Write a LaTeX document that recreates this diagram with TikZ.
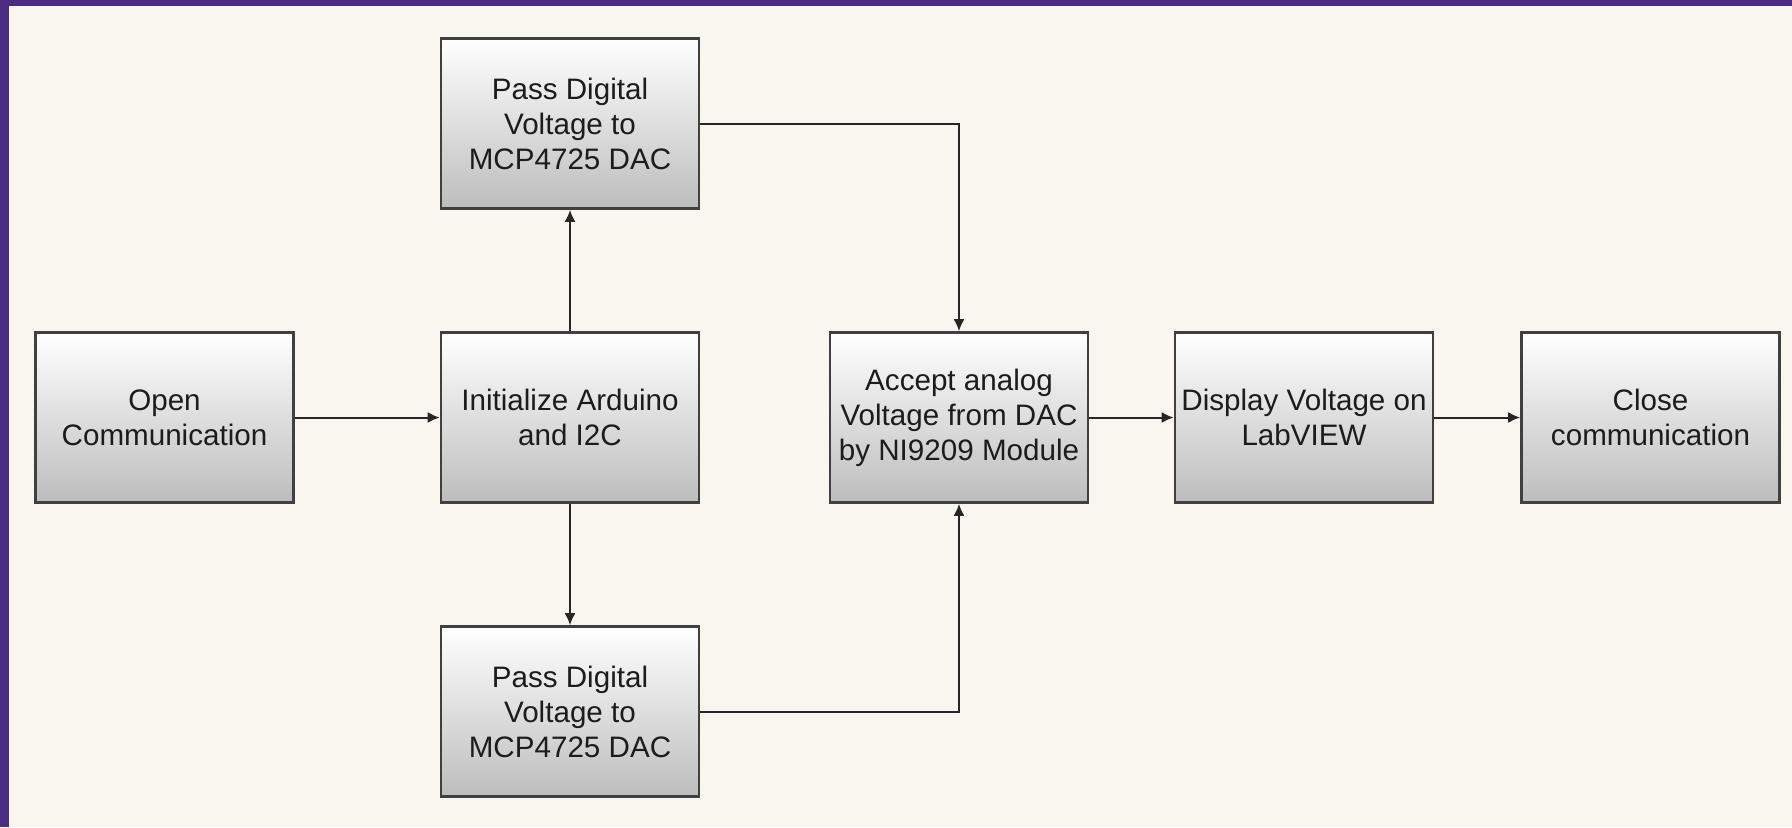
\documentclass[tikz,border=0pt]{standalone}
\usepackage{fontspec}
\setmainfont{Liberation Sans}
\usepackage{xcolor}
\usetikzlibrary{arrows.meta}
\definecolor{ink}{HTML}{1C1C1C}
\definecolor{edge}{HTML}{404040}
\definecolor{paper}{HTML}{F9F6F0}
\definecolor{frame}{HTML}{4A2C82}
\definecolor{shadebot}{HTML}{BDBDBD}

\begin{document}
\begin{tikzpicture}[
  x=0.5pt, y=-0.5pt,
  font=\fontsize{14.8}{17.5}\selectfont,
  box/.style={draw=edge, line width=1.3pt, top color=white, bottom color=shadebot,
              align=center, text=ink, inner sep=0pt,
              minimum width=129pt, minimum height=85pt},
  ar/.style={-{Latex[length=6pt,width=5.5pt]}, draw=black!85, line width=1pt},
]

%% ================= page : paper and frame =================
\useasboundingbox (0,0) rectangle (1792,827);
\fill[paper] (0,0) rectangle (1792,827);
\fill[frame] (0,0) rectangle (1792,6);
\fill[frame] (0,0) rectangle (9,827);

%% ================= middle row =================
\node[box] (open) at (164.5,417.5) {Open\\Communication};
\node[box] (init) at (570,417.5) {Initialize Arduino\\and I2C};
\node[box] (accept) at (959,417.5) {Accept analog\\Voltage from DAC\\by NI9209 Module};
\node[box] (display) at (1304,417.5) {Display Voltage on\\LabVIEW};
\node[box] (close) at (1650.5,417.5) {Close\\communication};

%% ================= the two DAC branches =================
\node[box] (dactop) at (570,123.5) {Pass Digital\\Voltage to\\MCP4725 DAC};
\node[box] (dacbot) at (570,711.5) {Pass Digital\\Voltage to\\MCP4725 DAC};

\draw[ar] (open) -- (init);
\draw[ar] (init) -- (dactop);
\draw[ar] (init) -- (dacbot);
\draw[ar] (dactop.east) -| (accept.north);
\draw[ar] (dacbot.east) -| (accept.south);
\draw[ar] (accept) -- (display);
\draw[ar] (display) -- (close);

\end{tikzpicture}
\end{document}
